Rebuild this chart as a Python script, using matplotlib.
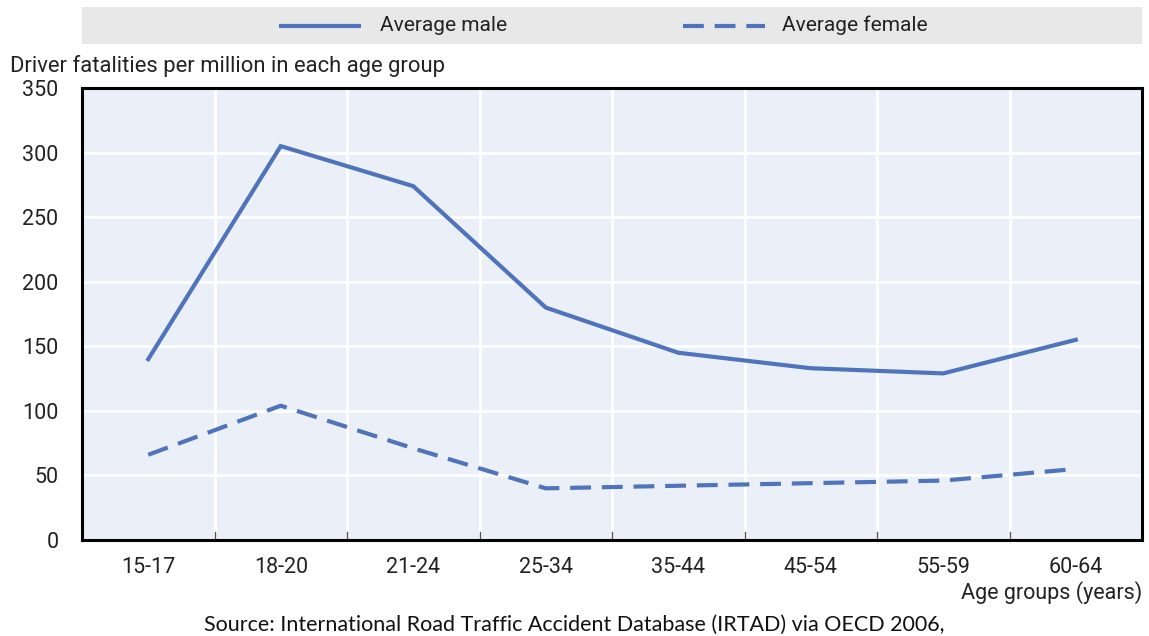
import matplotlib
matplotlib.use("Agg")
import matplotlib.pyplot as plt

categories = ["15-17", "18-20", "21-24", "25-34", "35-44", "45-54", "55-59", "60-64"]
male = [140, 305, 274, 180, 145, 133, 129, 155]
female = [66, 104, 71, 40, 42, 44, 46, 55]
yticks = [0, 50, 100, 150, 200, 250, 300, 350]

FONT = ["Roboto", "DejaVu Sans"]
plt.rcParams["font.family"] = FONT

W, H = 1149, 636
fig = plt.figure(figsize=(W / 100, H / 100), dpi=100)

L, R, T, B = 82, 1142, 88, 540
ax = fig.add_axes([L / W, 1 - B / H, (R - L) / W, (B - T) / H])
ax.set_facecolor("#ebf0f8")

blue = "#4f74bc"
x = list(range(len(categories)))
ax.plot(x, male, color=blue, lw=3.0, solid_joinstyle="miter", zorder=3)
ax.plot(x, female, color=blue, lw=3.0, dashes=(5, 2.6), zorder=3)

ax.set_xlim(-0.5, len(categories) - 0.5)
ax.set_ylim(0, 350)
ax.set_yticks(yticks)
ax.set_xticks(x)
ax.set_xticklabels(categories)
ax.tick_params(axis="both", length=0, labelsize=15.5, colors="#222222")
ax.tick_params(axis="x", pad=12)
ax.tick_params(axis="y", pad=17)

for yv in yticks[1:-1]:
    ax.axhline(yv, color="white", lw=2.0, zorder=1)
for i in range(1, len(categories)):
    ax.axvline(i - 0.5, color="white", lw=2.0, zorder=1)
    ax.plot([i - 0.5, i - 0.5], [0, 6], color="#555555", lw=1.0, zorder=2)

for s in ax.spines.values():
    s.set_color("black")
    s.set_linewidth(2.2)

# legend band
band = fig.add_axes([L / W, 1 - 44 / H, (R - L) / W, (44 - 7) / H])
band.set_facecolor("#e8e8e8")
band.set_xlim(L, R)
band.set_ylim(0, 1)
for s in band.spines.values():
    s.set_visible(False)
band.set_xticks([])
band.set_yticks([])
band.plot([279, 361], [0.5, 0.5], color=blue, lw=3.0, solid_capstyle="butt")
band.text(380, 0.5, "Average male", fontsize=15, va="center", ha="left", color="#222222")
band.plot([683, 765], [0.5, 0.5], color=blue, lw=3.0, dashes=(5, 2.6))
band.text(782, 0.5, "Average female", fontsize=15, va="center", ha="left", color="#222222")

fig.text(10 / W, 1 - 66 / H, "Driver fatalities per million in each age group",
         fontsize=15.8, ha="left", va="center", color="#222222")
fig.text(R / W, 1 - 593 / H, "Age groups (years)", fontsize=15.5, ha="right",
         va="center", color="#222222")
fig.text(574 / W, 1 - 625 / H,
         "Source: International Road Traffic Accident Database (IRTAD) via OECD 2006,",
         fontsize=15.5, ha="center", va="center", color="#111111",
         family=["Lato", "DejaVu Sans"])

fig.savefig("out.png", dpi=100)
